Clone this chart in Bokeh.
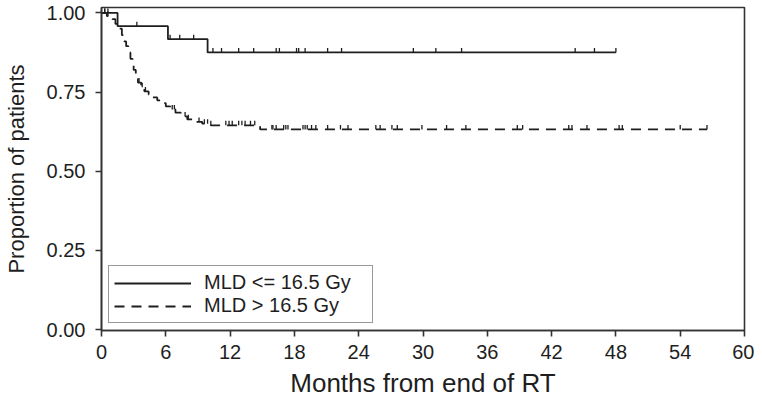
import numpy as np
from bokeh.plotting import figure
from bokeh.models import Range1d, FixedTicker, Legend, LegendItem
from bokeh.embed import file_html
from bokeh.resources import INLINE

# ---- data ----
x_ticks = [0, 6, 12, 18, 24, 30, 36, 42, 48, 54, 60]
y_ticks = [0.0, 0.25, 0.5, 0.75, 1.0]
y_tick_labels = {0.0: "0.00", 0.25: "0.25", 0.5: "0.50", 0.75: "0.75", 1.0: "1.00"}

# MLD <= 16.5 Gy (solid)
g1_time = [0.0, 1.5, 6.2, 9.9, 48.0]
g1_surv = [1.0, 0.958, 0.917, 0.875, 0.875]
g1_censor = [0.3, 0.6, 3.3, 6.4, 7.3, 8.6, 10.4, 11.2, 12.8, 14.2, 16.3, 16.6,
             18.2, 18.4, 19.0, 21.1, 22.4, 29.1, 31.2, 33.6, 44.2, 46.0, 48.0]

# MLD > 16.5 Gy (dashed)
g2_time = [0.0, 0.5, 1.0, 1.3, 1.6, 1.9, 2.1, 2.3, 2.5, 2.7, 2.9, 3.0, 3.2, 3.4,
           3.7, 4.0, 4.4, 4.8, 5.2, 5.6, 6.0, 6.4, 6.9, 7.4, 8.0, 8.6, 9.4,
           10.2, 14.8, 56.5]
g2_surv = [1.0, 0.99, 0.98, 0.965, 0.95, 0.93, 0.91, 0.895, 0.875, 0.855, 0.835,
           0.82, 0.80, 0.78, 0.765, 0.752, 0.742, 0.733, 0.724, 0.715, 0.705,
           0.695, 0.685, 0.673, 0.664, 0.656, 0.65, 0.645, 0.632, 0.632]
g2_censor = [0.3, 0.6, 3.5, 3.8, 4.1, 6.6, 6.8, 7.8, 8.1, 9.1, 9.6, 9.9, 10.2,
             11.6, 11.9, 12.2, 12.8, 13.1, 13.4, 13.9, 14.3, 15.9, 16.0, 16.3,
             17.0, 17.2, 17.4, 18.8, 19.0, 19.2, 19.6, 20.0, 21.1, 22.3, 23.0,
             25.6, 26.0, 27.1, 27.6, 29.9, 32.2, 34.0, 38.8, 39.3, 43.6, 43.9,
             45.3, 48.3, 48.6, 54.0, 56.5]

labels = ["MLD <= 16.5 Gy", "MLD > 16.5 Gy"]

# ---- styling ----
INK = "#1e1e1e"
FONT = "Liberation Sans"
TICK_H = 0.014  # censor tick height (data units)


def surv_at(t, times, surv):
    idx = np.searchsorted(np.asarray(times), np.asarray(t), side="right") - 1
    return np.asarray(surv)[idx]


p = figure(width=754, height=400, output_backend="svg", toolbar_location=None,
           x_range=Range1d(0, 60), y_range=Range1d(-0.003, 1.017),
           min_border_left=95, min_border_right=10, min_border_top=7,
           min_border_bottom=67)
p.background_fill_color = "white"
p.border_fill_color = "white"
p.outline_line_color = "#333333"
p.outline_line_width = 1.6
p.xgrid.visible = False
p.ygrid.visible = False

r1 = p.step(g1_time, g1_surv, mode="after", line_color=INK, line_width=1.8)
r2 = p.step(g2_time, g2_surv, mode="after", line_color=INK, line_width=1.8,
            line_dash="10 7")

c1y = surv_at(g1_censor, g1_time, g1_surv)
c2y = surv_at(g2_censor, g2_time, g2_surv)
p.segment(x0=g1_censor, y0=c1y, x1=g1_censor, y1=c1y + TICK_H,
          line_color=INK, line_width=1.3)
p.segment(x0=g2_censor, y0=c2y, x1=g2_censor, y1=c2y + TICK_H,
          line_color=INK, line_width=1.3)

for ax in (p.xaxis[0], p.yaxis[0]):
    ax.axis_line_color = "#333333"
    ax.axis_line_width = 1.6
    ax.major_tick_line_color = "#333333"
    ax.major_tick_line_width = 1.6
    ax.major_tick_in = 0
    ax.major_tick_out = 6
    ax.minor_tick_line_color = None
    ax.major_label_text_font = FONT
    ax.major_label_text_font_size = "20px"
    ax.major_label_text_color = INK
    ax.axis_label_text_font = FONT
    ax.axis_label_text_font_style = "normal"
    ax.axis_label_text_color = INK

p.xaxis.ticker = FixedTicker(ticks=x_ticks)
p.yaxis.ticker = FixedTicker(ticks=y_ticks)
p.yaxis.major_label_overrides = y_tick_labels
p.xaxis.axis_label = "Months from end of RT"
p.yaxis.axis_label = "Proportion of patients"
p.xaxis.axis_label_text_font_size = "26px"
p.yaxis.axis_label_text_font_size = "22px"
p.xaxis.major_label_standoff = 8
p.yaxis.major_label_standoff = 10
p.xaxis.axis_label_standoff = 6
p.yaxis.axis_label_standoff = 15

legend = Legend(items=[LegendItem(label=labels[0], renderers=[r1]),
                       LegendItem(label=labels[1], renderers=[r2])],
                location=(7, 7))
legend.label_text_font = FONT
legend.label_text_font_size = "20px"
legend.label_text_color = INK
legend.glyph_width = 77
legend.glyph_height = 20
legend.label_standoff = 13
legend.label_width = 163
legend.padding = 5
legend.spacing = 0
legend.margin = 0
legend.border_line_color = "#333333"
legend.border_line_width = 1.6
legend.background_fill_alpha = 1
p.add_layout(legend)

open("out.html", "w").write(file_html(p, INLINE))
